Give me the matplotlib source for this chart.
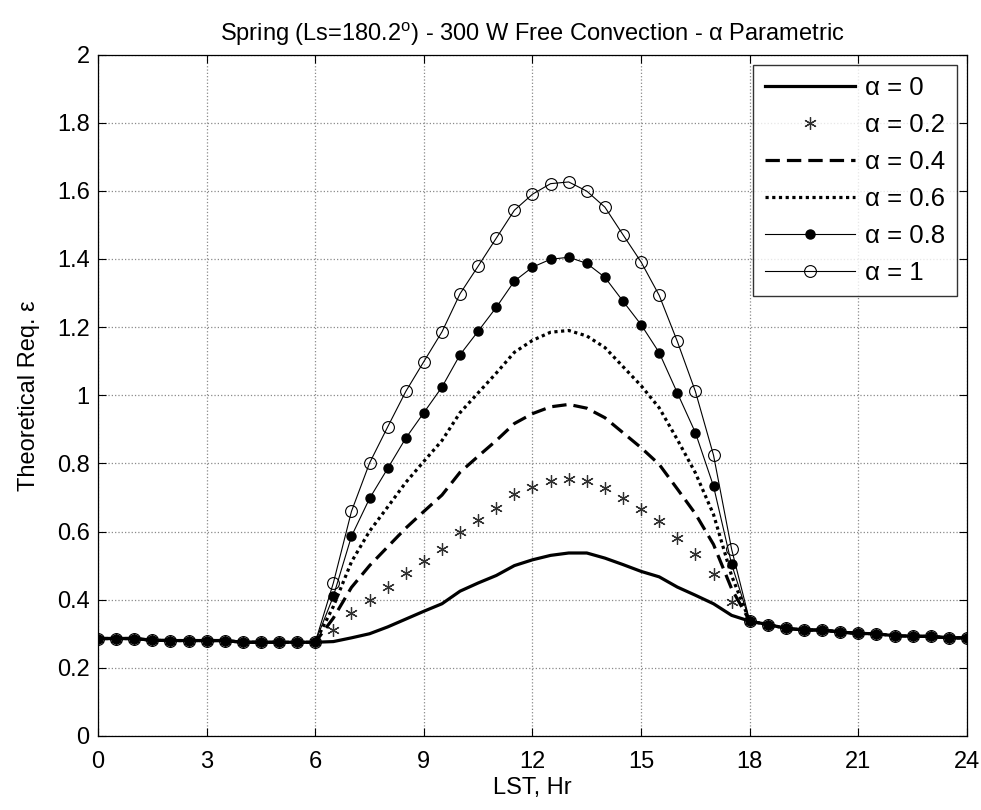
import matplotlib
matplotlib.use("Agg")
import matplotlib.pyplot as plt
import numpy as np

plt.rcParams['font.family'] = ['Liberation Sans', 'DejaVu Sans']
plt.rcParams['mathtext.fontset'] = 'custom'
plt.rcParams['mathtext.rm'] = 'Liberation Sans'
plt.rcParams['mathtext.it'] = 'Liberation Sans:italic'

# Local solar time, half-hour steps
hours = np.arange(0, 24.01, 0.5)

night_am = [0.286, 0.286, 0.286, 0.281, 0.280, 0.280, 0.280, 0.280,
            0.275, 0.275, 0.275, 0.275, 0.275]          # 0.0 .. 6.0
night_pm = [0.337, 0.327, 0.316, 0.311, 0.311, 0.305, 0.301, 0.300,
            0.294, 0.293, 0.292, 0.288, 0.288]          # 18.0 .. 24.0

# Daytime values, 6.5 .. 17.5
day_a00 = [0.277, 0.288, 0.300, 0.320, 0.343, 0.366, 0.388, 0.425, 0.449, 0.471,
           0.500, 0.517, 0.530, 0.537, 0.537, 0.522, 0.503, 0.483, 0.467, 0.437,
           0.413, 0.388, 0.354]
day_a02 = [0.311, 0.362, 0.400, 0.437, 0.477, 0.513, 0.548, 0.600, 0.635, 0.669,
           0.709, 0.732, 0.748, 0.755, 0.749, 0.728, 0.697, 0.665, 0.632, 0.581,
           0.533, 0.475, 0.393]
day_a04 = [0.346, 0.436, 0.500, 0.555, 0.610, 0.659, 0.707, 0.774, 0.821, 0.867,
           0.917, 0.946, 0.966, 0.973, 0.962, 0.934, 0.890, 0.846, 0.797, 0.725,
           0.652, 0.562, 0.432]
day_a06 = [0.380, 0.511, 0.601, 0.672, 0.744, 0.806, 0.867, 0.949, 1.007, 1.065,
           1.126, 1.161, 1.185, 1.190, 1.174, 1.140, 1.084, 1.028, 0.963, 0.870,
           0.772, 0.650, 0.470]
day_a08 = [0.410, 0.586, 0.697, 0.785, 0.874, 0.949, 1.024, 1.119, 1.188, 1.258,
           1.335, 1.376, 1.399, 1.405, 1.387, 1.346, 1.276, 1.207, 1.125, 1.007,
           0.890, 0.733, 0.504]
day_a10 = [0.449, 0.659, 0.801, 0.907, 1.011, 1.099, 1.186, 1.298, 1.379, 1.461,
           1.543, 1.590, 1.621, 1.626, 1.599, 1.552, 1.471, 1.391, 1.293, 1.158,
           1.011, 0.824, 0.548]

eps_a00 = night_am + day_a00 + night_pm
eps_a02 = night_am + day_a02 + night_pm
eps_a04 = night_am + day_a04 + night_pm
eps_a06 = night_am + day_a06 + night_pm
eps_a08 = night_am + day_a08 + night_pm
eps_a10 = night_am + day_a10 + night_pm

labels = ['α = 0', 'α = 0.2', 'α = 0.4', 'α = 0.6', 'α = 0.8', 'α = 1']
x_ticks = [0, 3, 6, 9, 12, 15, 18, 21, 24]
y_ticks = [0, 0.2, 0.4, 0.6, 0.8, 1.0, 1.2, 1.4, 1.6, 1.8, 2.0]
y_ticklabels = ['0', '0.2', '0.4', '0.6', '0.8', '1', '1.2', '1.4', '1.6', '1.8', '2']

fig = plt.figure(figsize=(9.81, 8.10), dpi=100)
ax = fig.add_axes([0.0999, 0.0914, 0.8858, 0.8413])

asterisk = (6, 2, 0)

ax.plot(hours, eps_a00, color='black', lw=2.3, label=labels[0])
ax.plot(hours, eps_a02, linestyle='none', marker=asterisk, markersize=9,
        color='#303030', markeredgewidth=0.9, label=labels[1])
ax.plot(hours, eps_a04, color='black', lw=2.3, linestyle=(0, (4.5, 2.2)),
        label=labels[2])
ax.plot(hours, eps_a06, color='black', lw=2.3, linestyle=(0, (1, 1.1)),
        label=labels[3])
ax.plot(hours, eps_a08, color='black', lw=0.8, marker='o', markersize=6.5,
        markerfacecolor='black', markeredgecolor='black', label=labels[4])
ax.plot(hours, eps_a10, color='black', lw=0.8, marker='o', markersize=8.5,
        markerfacecolor='none', markeredgecolor='black', markeredgewidth=0.8,
        label=labels[5])

ax.set_xlim(0, 24)
ax.set_ylim(0, 2)
ax.set_xticks(x_ticks)
ax.set_xticklabels([str(t) for t in x_ticks])
ax.set_yticks(y_ticks)
ax.set_yticklabels(y_ticklabels)
ax.tick_params(direction='in', length=6, width=0.8, labelsize=17,
               top=True, right=True)
ax.tick_params(axis='x', pad=11)
ax.tick_params(axis='y', pad=6)
ax.grid(True, linestyle=':', color='#8a8a8a', linewidth=0.9)
for s in ax.spines.values():
    s.set_linewidth(0.9)
    s.set_color('black')

ax.set_xlabel('LST, Hr', fontsize=17, labelpad=3)
ax.set_ylabel('Theoretical Req. ε', fontsize=17, labelpad=12)
ax.set_title('Spring (Ls=180.2$^{\\mathrm{o}}$) - 300 W Free Convection - α Parametric',
             fontsize=17, pad=10)

leg = ax.legend(loc='upper right', fontsize=18.5, frameon=True, fancybox=False,
                edgecolor='black', handlelength=3.5, handletextpad=0.4,
                labelspacing=0.5, borderpad=0.45, borderaxespad=0.4)
leg.get_frame().set_linewidth(1.0)

fig.savefig('out.png', dpi=100)
